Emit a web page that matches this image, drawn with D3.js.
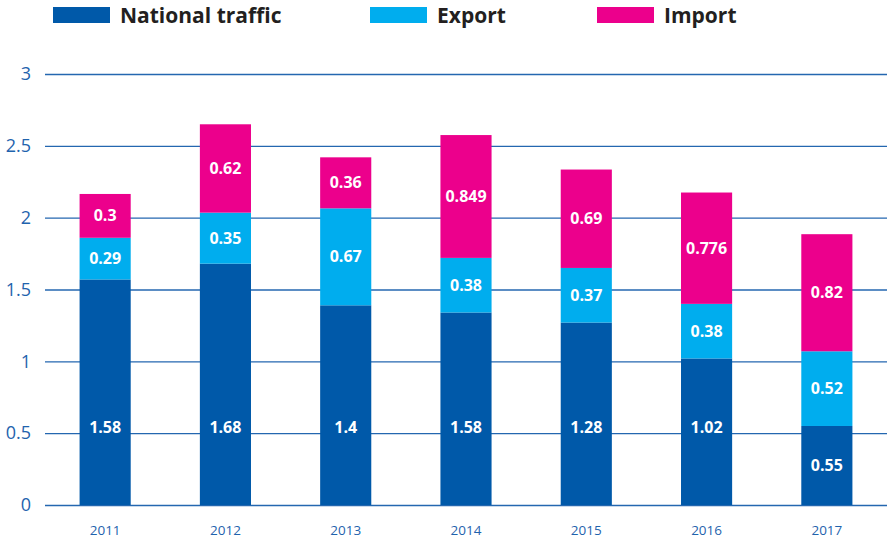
<!DOCTYPE html>
<html>
<head>
    <meta charset="utf-8">
    <title>Traffic by year</title>
    <script src="https://d3js.org/d3.v7.min.js"></script>
    <style>
        body { margin: 0; padding: 0; background: #fff; }
    </style>
</head>
<body>
    <svg id="svg" width="887" height="542"></svg>

    <script>
        const years = ["2011", "2012", "2013", "2014", "2015", "2016", "2017"];
        const national = [1.57, 1.68, 1.39, 1.34, 1.27, 1.02, 0.55];
        const exportVals = [0.29, 0.355, 0.675, 0.38, 0.38, 0.38, 0.52];
        const importVals = [0.305, 0.615, 0.355, 0.855, 0.685, 0.775, 0.815];
        // printed labels (as in the source, 2014 national label differs from the bar)
        const nationalLabels = ["1.58", "1.68", "1.4", "1.58", "1.28", "1.02", "0.55"];
        const exportLabels = ["0.29", "0.35", "0.67", "0.38", "0.37", "0.38", "0.52"];
        const importLabels = ["0.3", "0.62", "0.36", "0.849", "0.69", "0.776", "0.82"];
        const yTicks = [0, 0.5, 1, 1.5, 2, 2.5, 3];
        const seriesNames = ["National traffic", "Export", "Import"];
        const colors = ["#0059a9", "#00adee", "#ec008c"];

        const svg = d3.select("svg");
        const plot = { left: 45, right: 887, top: 74, bottom: 505 };

        const x = d3.scaleBand().domain(years).range([plot.left, plot.right])
            .paddingInner(0.575).paddingOuter(0.2875);
        const y = d3.scaleLinear().domain([0, 3]).range([plot.bottom, plot.top]);

        // Grid lines + y labels
        const yAxis = svg.append("g")
            .attr("transform", `translate(${plot.left},0)`)
            .call(d3.axisLeft(y).tickValues(yTicks).tickSize(-(plot.right - plot.left)).tickPadding(14).tickFormat(d3.format("")));
        yAxis.select(".domain").remove();
        yAxis.selectAll(".tick line").attr("stroke", "#2467b0").attr("stroke-width", 1.3);
        yAxis.selectAll(".tick text")
            .attr("fill", "#1f63ad")
            .style("font-family", "'Open Sans', sans-serif")
            .style("font-size", "18px");

        // X labels
        const xAxis = svg.append("g")
            .attr("transform", `translate(0,${plot.bottom})`)
            .call(d3.axisBottom(x).tickSize(0).tickPadding(20));
        xAxis.select(".domain").remove();
        xAxis.selectAll(".tick text")
            .attr("fill", "#1f63ad")
            .style("font-family", "'Open Sans', sans-serif")
            .style("font-size", "13.5px");

        // Stacked data
        const rows = years.map((yr, i) => ({ year: yr, n: national[i], e: exportVals[i], m: importVals[i] }));
        const stack = d3.stack().keys(["n", "e", "m"])(rows);
        const labelSets = [nationalLabels, exportLabels, importLabels];

        const layers = svg.selectAll(".layer")
            .data(stack)
            .enter()
            .append("g")
                .attr("class", "layer")
                .attr("fill", (d, i) => colors[i]);

        layers.selectAll("rect")
            .data(d => d)
            .enter()
            .append("rect")
                .attr("x", d => x(d.data.year))
                .attr("y", d => y(d[1]))
                .attr("width", x.bandwidth())
                .attr("height", d => y(d[0]) - y(d[1]));

        layers.each(function (layer, li) {
            d3.select(this).selectAll("text")
                .data(layer)
                .enter()
                .append("text")
                    .attr("x", d => x(d.data.year) + x.bandwidth() / 2)
                    .attr("y", d => {
                        // national labels sit on one row, unless the bar is too short
                        if (li === 0) return y(d[1] > 0.8 ? 0.54 : d[1] / 2);
                        return y((d[0] + d[1]) / 2);
                    })
                    .attr("dy", "0.35em")
                    .attr("text-anchor", "middle")
                    .attr("fill", "#fff")
                    .style("font-family", "'Open Sans', sans-serif")
                    .style("font-weight", "700")
                    .style("font-size", "16px")
                    .text((d, i) => labelSets[li][i]);
        });

        // Legend
        const legendX = [53, 370, 597];
        const legend = svg.selectAll(".legend")
            .data(seriesNames)
            .enter()
            .append("g")
                .attr("class", "legend")
                .attr("transform", (d, i) => `translate(${legendX[i]},7)`);
        legend.append("rect")
            .attr("width", 57)
            .attr("height", 16)
            .attr("fill", (d, i) => colors[i]);
        legend.append("text")
            .attr("x", 67)
            .attr("y", 8)
            .attr("dy", "0.36em")
            .attr("fill", "#231f20")
            .style("font-family", "'Open Sans', sans-serif")
            .style("font-weight", "700")
            .style("font-size", "21px")
            .text(d => d);
    </script>
</body>
</html>
